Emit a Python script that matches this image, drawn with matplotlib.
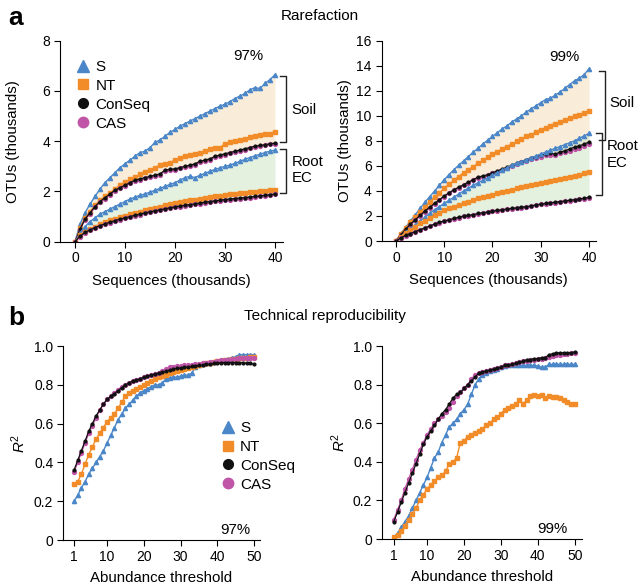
import matplotlib
matplotlib.use("Agg")
import matplotlib.pyplot as plt
from matplotlib.lines import Line2D
import numpy as np

plt.rcParams['font.family'] = ['Liberation Sans', 'DejaVu Sans']
plt.rcParams['font.size'] = 10.8
plt.rcParams['mathtext.fontset'] = 'custom'
plt.rcParams['mathtext.rm'] = 'Liberation Sans'
plt.rcParams['mathtext.it'] = 'Liberation Sans:italic'

# ---- data: rarefaction (sequences in thousands, OTUs in thousands) ----
seqs = np.arange(0, 41)

# 97% OTUs
a97_soil_S = [0, 0.7, 1.15, 1.5, 1.8, 2.1, 2.35, 2.55, 2.75, 2.95, 3.1, 3.25, 3.4, 3.55, 3.6, 3.75, 3.95, 4.05,
              4.2, 4.35, 4.47, 4.6, 4.7, 4.8, 4.9, 5.0, 5.1, 5.2, 5.3, 5.4, 5.47, 5.58, 5.7, 5.8, 5.9, 6.05, 6.13,
              6.1, 6.3, 6.45, 6.65]
a97_soil_NT = [0, 0.55, 0.95, 1.2, 1.45, 1.65, 1.8, 1.95, 2.1, 2.25, 2.38, 2.48, 2.58, 2.68, 2.76, 2.85, 2.95,
               3.05, 3.1, 3.15, 3.25, 3.35, 3.4, 3.45, 3.5, 3.55, 3.6, 3.7, 3.75, 3.75, 3.9, 3.95, 4.0, 4.05,
               4.1, 4.15, 4.2, 4.25, 4.28, 4.3, 4.38]
a97_soil_CS = [0, 0.5, 0.9, 1.15, 1.4, 1.6, 1.75, 1.9, 2.05, 2.15, 2.25, 2.35, 2.45, 2.5, 2.55, 2.6, 2.65, 2.7,
               2.85, 2.88, 2.9, 2.95, 3.0, 3.05, 3.1, 3.2, 3.25, 3.3, 3.4, 3.45, 3.5, 3.55, 3.6, 3.65, 3.7, 3.75,
               3.8, 3.83, 3.86, 3.9, 3.92]
a97_soil_CAS = [0, 0.48, 0.87, 1.12, 1.37, 1.57, 1.72, 1.87, 2.02, 2.12, 2.22, 2.32, 2.42, 2.47, 2.52, 2.57,
                2.62, 2.67, 2.82, 2.85, 2.87, 2.92, 2.97, 3.02, 3.07, 3.17, 3.22, 3.27, 3.37, 3.42, 3.47, 3.52,
                3.57, 3.62, 3.67, 3.72, 3.77, 3.8, 3.83, 3.87, 3.9]
a97_root_S = [0, 0.35, 0.6, 0.8, 0.95, 1.1, 1.2, 1.3, 1.4, 1.5, 1.6, 1.7, 1.77, 1.85, 1.9, 1.97, 2.05, 2.12,
              2.2, 2.28, 2.35, 2.45, 2.55, 2.6, 2.55, 2.65, 2.72, 2.8, 2.88, 2.94, 3.0, 3.05, 3.12, 3.2, 3.28,
              3.35, 3.42, 3.48, 3.55, 3.6, 3.65]
a97_root_NT = [0, 0.25, 0.4, 0.5, 0.6, 0.7, 0.77, 0.85, 0.92, 0.98, 1.04, 1.1, 1.15, 1.2, 1.25, 1.3, 1.35, 1.4,
               1.45, 1.5, 1.55, 1.58, 1.62, 1.65, 1.68, 1.71, 1.74, 1.77, 1.8, 1.83, 1.86, 1.88, 1.9, 1.92, 1.94,
               1.96, 1.98, 2.0, 2.02, 2.05, 2.07]
a97_root_CS = [0, 0.22, 0.37, 0.47, 0.56, 0.64, 0.71, 0.78, 0.84, 0.9, 0.95, 1.0, 1.05, 1.1, 1.15, 1.19, 1.23,
               1.27, 1.31, 1.35, 1.39, 1.42, 1.45, 1.48, 1.51, 1.54, 1.57, 1.6, 1.63, 1.65, 1.68, 1.7, 1.72, 1.74,
               1.76, 1.78, 1.8, 1.82, 1.85, 1.87, 1.9]
a97_root_CAS = [0, 0.2, 0.35, 0.45, 0.54, 0.62, 0.69, 0.76, 0.82, 0.88, 0.93, 0.98, 1.03, 1.08, 1.13, 1.17,
                1.21, 1.25, 1.29, 1.33, 1.37, 1.4, 1.43, 1.46, 1.49, 1.52, 1.55, 1.58, 1.61, 1.63, 1.66, 1.68,
                1.7, 1.72, 1.74, 1.76, 1.78, 1.8, 1.83, 1.85, 1.88]

# 99% OTUs
a99_soil_S = [0, 0.6, 1.1, 1.6, 2.1, 2.6, 3.1, 3.55, 4.0, 4.45, 4.9, 5.3, 5.7, 6.05, 6.4, 6.75, 7.1, 7.4, 7.75,
              8.05, 8.35, 8.65, 8.95, 9.2, 9.5, 9.75, 10.0, 10.3, 10.55, 10.8, 11.05, 11.3, 11.4, 11.65, 11.9,
              12.2, 12.5, 12.8, 13.0, 13.3, 13.75]
a99_soil_NT = [0, 0.6, 1.05, 1.5, 1.9, 2.3, 2.7, 3.1, 3.5, 3.85, 4.2, 4.55, 4.85, 5.15, 5.45, 5.7, 5.95, 6.2,
               6.45, 6.7, 6.95, 7.15, 7.35, 7.55, 7.75, 7.95, 8.15, 8.35, 8.5, 8.7, 8.88, 9.05, 9.2, 9.35, 9.5,
               9.65, 9.8, 9.95, 10.1, 10.25, 10.4]
a99_soil_CS = [0, 0.5, 0.95, 1.35, 1.7, 2.05, 2.4, 2.7, 3.0, 3.3, 3.6, 3.85, 4.1, 4.3, 4.5, 4.7, 4.9, 5.1, 5.2,
               5.3, 5.45, 5.6, 5.75, 5.9, 6.05, 6.2, 6.35, 6.5, 6.65, 6.75, 6.85, 6.95, 7.0, 6.95, 7.1, 7.2,
               7.35, 7.5, 7.6, 7.75, 7.9]
a99_soil_CAS = [0, 0.48, 0.92, 1.3, 1.65, 2.0, 2.35, 2.65, 2.95, 3.25, 3.55, 3.8, 4.05, 4.25, 4.45, 4.65, 4.85,
                5.05, 5.15, 5.25, 5.4, 5.55, 5.7, 5.85, 6.0, 6.15, 6.3, 6.42, 6.55, 6.65, 6.75, 6.85, 6.9, 6.9,
                7.0, 7.1, 7.2, 7.35, 7.45, 7.6, 7.72]
a99_root_S = [0, 0.35, 0.7, 1.0, 1.3, 1.6, 1.9, 2.2, 2.5, 2.75, 3.0, 3.25, 3.5, 3.75, 4.0, 4.2, 4.45, 4.65,
              4.85, 5.05, 5.25, 5.45, 5.65, 5.85, 6.05, 6.2, 6.35, 6.5, 6.65, 6.8, 6.95, 7.1, 7.25, 7.4, 7.55,
              7.7, 7.85, 8.0, 8.2, 8.4, 8.6]
a99_root_NT = [0, 0.35, 0.65, 0.9, 1.15, 1.4, 1.6, 1.85, 2.05, 2.25, 2.45, 2.6, 2.75, 2.9, 3.05, 3.15, 3.3,
               3.4, 3.5, 3.6, 3.7, 3.8, 3.9, 4.0, 4.1, 4.2, 4.3, 4.4, 4.45, 4.55, 4.63, 4.7, 4.8, 4.88, 4.95,
               5.05, 5.12, 5.2, 5.3, 5.4, 5.5]
a99_root_CS = [0, 0.25, 0.45, 0.6, 0.75, 0.9, 1.05, 1.2, 1.35, 1.5, 1.6, 1.7, 1.8, 1.9, 2.0, 2.05, 2.1, 2.2,
               2.25, 2.32, 2.4, 2.45, 2.5, 2.55, 2.6, 2.65, 2.7, 2.75, 2.8, 2.88, 2.95, 3.0, 3.05, 3.1, 3.15,
               3.2, 3.25, 3.3, 3.35, 3.42, 3.48]
a99_root_CAS = [0, 0.23, 0.43, 0.58, 0.73, 0.88, 1.03, 1.18, 1.33, 1.47, 1.57, 1.67, 1.77, 1.87, 1.97, 2.02,
                2.07, 2.17, 2.22, 2.29, 2.37, 2.42, 2.47, 2.52, 2.57, 2.62, 2.67, 2.72, 2.77, 2.85, 2.92, 2.97,
                3.02, 3.07, 3.12, 3.17, 3.22, 3.27, 3.32, 3.39, 3.45]

# ---- data: technical reproducibility (R^2 vs abundance threshold) ----
thresh = np.arange(1, 51)

b97_S = [0.2, 0.23, 0.27, 0.3, 0.34, 0.37, 0.4, 0.43, 0.46, 0.5, 0.54, 0.58, 0.62, 0.65, 0.68, 0.7, 0.72, 0.74,
         0.76, 0.77, 0.78, 0.79, 0.8, 0.8, 0.81, 0.83, 0.835, 0.84, 0.84, 0.845, 0.85, 0.85, 0.86, 0.89, 0.9,
         0.905, 0.91, 0.915, 0.92, 0.925, 0.93, 0.93, 0.935, 0.94, 0.945, 0.955, 0.955, 0.955, 0.955, 0.955]
b97_NT = [0.29, 0.3, 0.34, 0.39, 0.44, 0.48, 0.52, 0.55, 0.58, 0.61, 0.63, 0.65, 0.68, 0.71, 0.74, 0.76, 0.77,
          0.78, 0.79, 0.8, 0.81, 0.82, 0.83, 0.84, 0.845, 0.85, 0.86, 0.865, 0.87, 0.875, 0.88, 0.885, 0.89,
          0.895, 0.9, 0.905, 0.91, 0.915, 0.92, 0.925, 0.925, 0.93, 0.93, 0.935, 0.935, 0.94, 0.94, 0.94, 0.945,
          0.945]
b97_CS = [0.36, 0.41, 0.46, 0.51, 0.56, 0.6, 0.64, 0.67, 0.7, 0.725, 0.74, 0.755, 0.77, 0.785, 0.8, 0.81, 0.82,
          0.825, 0.83, 0.84, 0.845, 0.85, 0.855, 0.86, 0.865, 0.87, 0.875, 0.88, 0.885, 0.885, 0.89, 0.89, 0.895,
          0.895, 0.9, 0.9, 0.905, 0.905, 0.91, 0.91, 0.915, 0.915, 0.915, 0.915, 0.915, 0.915, 0.915, 0.91, 0.91,
          0.905]
b97_CAS = [0.35, 0.4, 0.45, 0.5, 0.55, 0.59, 0.63, 0.67, 0.7, 0.725, 0.74, 0.76, 0.775, 0.79, 0.8, 0.81, 0.82,
           0.825, 0.83, 0.84, 0.845, 0.85, 0.855, 0.86, 0.87, 0.88, 0.89, 0.89, 0.895, 0.895, 0.9, 0.9, 0.9,
           0.905, 0.905, 0.91, 0.915, 0.92, 0.92, 0.925, 0.93, 0.93, 0.93, 0.935, 0.935, 0.94, 0.94, 0.94, 0.94,
           0.94]

b99_S = [0.01, 0.03, 0.06, 0.09, 0.12, 0.16, 0.2, 0.24, 0.28, 0.32, 0.37, 0.42, 0.45, 0.5, 0.54, 0.58, 0.6, 0.62,
         0.65, 0.67, 0.7, 0.75, 0.8, 0.83, 0.85, 0.86, 0.87, 0.875, 0.88, 0.89, 0.895, 0.9, 0.9, 0.9, 0.9, 0.9,
         0.9, 0.9, 0.9, 0.895, 0.89, 0.89, 0.905, 0.905, 0.905, 0.905, 0.905, 0.905, 0.905, 0.905]
b99_NT = [0.01, 0.02, 0.04, 0.07, 0.1, 0.13, 0.16, 0.2, 0.23, 0.26, 0.28, 0.3, 0.32, 0.33, 0.35, 0.39, 0.4, 0.42,
          0.5, 0.51, 0.53, 0.54, 0.55, 0.56, 0.57, 0.59, 0.6, 0.62, 0.63, 0.65, 0.67, 0.68, 0.69, 0.7, 0.72, 0.7,
          0.72, 0.74, 0.745, 0.74, 0.745, 0.73, 0.74, 0.735, 0.735, 0.73, 0.72, 0.71, 0.7, 0.7]
b99_CS = [0.09, 0.14, 0.19, 0.24, 0.29, 0.34, 0.39, 0.44, 0.49, 0.53, 0.56, 0.59, 0.62, 0.65, 0.67, 0.7, 0.73,
          0.75, 0.76, 0.78, 0.8, 0.82, 0.84, 0.86, 0.865, 0.87, 0.875, 0.88, 0.885, 0.89, 0.9, 0.9, 0.905, 0.91,
          0.915, 0.92, 0.93, 0.93, 0.935, 0.935, 0.94, 0.94, 0.955, 0.96, 0.965, 0.965, 0.965, 0.965, 0.965, 0.97]
b99_CAS = [0.1, 0.15, 0.2, 0.26, 0.31, 0.36, 0.41, 0.46, 0.5, 0.54, 0.57, 0.6, 0.62, 0.64, 0.66, 0.68, 0.71,
           0.74, 0.76, 0.78, 0.8, 0.83, 0.85, 0.86, 0.865, 0.87, 0.875, 0.88, 0.885, 0.89, 0.9, 0.9, 0.905, 0.91,
           0.915, 0.92, 0.925, 0.93, 0.93, 0.935, 0.935, 0.94, 0.945, 0.95, 0.955, 0.955, 0.96, 0.96, 0.965, 0.965]

labels = ['S', 'NT', 'ConSeq', 'CAS']
c_S, c_NT, c_CS, c_CAS = '#4a86c8', '#f28c28', '#111111', '#c055a8'
soil_fill = '#f5ddb8'
root_fill = '#cfe6c6'

style = {
    'S': dict(color=c_S, marker='^', ms=3.0, lw=1.0),
    'NT': dict(color=c_NT, marker='s', ms=2.6, lw=1.0),
    'CAS': dict(color=c_CAS, marker='o', ms=2.8, lw=1.0),
    'CS': dict(color=c_CS, marker='o', ms=2.0, lw=0.9),
}


def draw(ax, x, S, NT, CS, CAS):
    ax.plot(x, S, **style['S'])
    ax.plot(x, NT, **style['NT'])
    ax.plot(x, CAS, **style['CAS'])
    ax.plot(x, CS, **style['CS'])


def tidy(ax):
    for side in ('top', 'right'):
        ax.spines[side].set_visible(False)
    ax.tick_params(direction='out', length=4, width=0.8, labelsize=10, pad=3)


def bracket(ax, x0, x1, y0, y1):
    ax.plot([x0, x1, x1, x0], [y0, y0, y1, y1], color='#222222', lw=1.0, clip_on=False)


fig = plt.figure(figsize=(6.4, 5.85), dpi=100)

# panel a, 97%
ax1 = fig.add_axes([0.09375, 0.5868, 0.3484, 0.3436])
ax1.fill_between(seqs, a97_soil_S, a97_soil_CS, color=soil_fill, alpha=0.55, lw=0)
ax1.fill_between(seqs, a97_root_S, a97_root_CS, color=root_fill, alpha=0.55, lw=0)
draw(ax1, seqs, a97_soil_S, a97_soil_NT, a97_soil_CS, a97_soil_CAS)
draw(ax1, seqs, a97_root_S, a97_root_NT, a97_root_CS, a97_root_CAS)
ax1.set_xlim(-3, 41.6)
ax1.set_ylim(0, 8)
ax1.set_xticks([0, 10, 20, 30, 40])
ax1.set_yticks([0, 2, 4, 6, 8])
ax1.set_xlabel('Sequences (thousands)')
ax1.set_ylabel('OTUs (thousands)')
ax1.xaxis.set_label_coords(0.5, -0.162)
ax1.yaxis.set_label_coords(-0.18, 0.5)
ax1.text(34.6, 7.4, '97%', ha='center', va='center')
bracket(ax1, 41.0, 42.2, 6.59, 3.98)
bracket(ax1, 41.0, 42.2, 3.69, 1.93)
ax1.text(43.3, 5.25, 'Soil', ha='left', va='center')
ax1.text(43.3, 2.85, 'Root\nEC', ha='left', va='center', linespacing=1.25)
handles = [Line2D([], [], ls='', marker='^', color=c_S, ms=8),
           Line2D([], [], ls='', marker='s', color=c_NT, ms=7.5),
           Line2D([], [], ls='', marker='o', color=c_CS, ms=7),
           Line2D([], [], ls='', marker='o', color=c_CAS, ms=7.5)]
ax1.legend(handles, labels, loc='upper left', bbox_to_anchor=(0.05, 0.935), frameon=False,
           handlelength=0.8, handletextpad=0.4, labelspacing=0.32, borderaxespad=0, fontsize=11)
tidy(ax1)

# panel a, 99%
ax2 = fig.add_axes([0.5961, 0.5880, 0.3355, 0.3424])
ax2.fill_between(seqs, a99_soil_S, a99_soil_CS, color=soil_fill, alpha=0.55, lw=0)
ax2.fill_between(seqs, a99_root_S, a99_root_CS, color=root_fill, alpha=0.55, lw=0)
draw(ax2, seqs, a99_soil_S, a99_soil_NT, a99_soil_CS, a99_soil_CAS)
draw(ax2, seqs, a99_root_S, a99_root_NT, a99_root_CS, a99_root_CAS)
ax2.set_xlim(-3, 41.5)
ax2.set_ylim(0, 16)
ax2.set_xticks([0, 10, 20, 30, 40])
ax2.set_yticks(range(0, 17, 2))
ax2.set_xlabel('Sequences (thousands)')
ax2.set_ylabel('OTUs (thousands)')
ax2.xaxis.set_label_coords(0.5, -0.162)
ax2.yaxis.set_label_coords(-0.137, 0.5)
ax2.text(35, 14.7, '99%', ha='center', va='center')
bracket(ax2, 42.1, 43.3, 13.6, 8.05)
bracket(ax2, 41.5, 42.6, 8.63, 3.67)
ax2.text(44.3, 11.0, 'Soil', ha='left', va='center')
ax2.text(43.7, 6.9, 'Root\nEC', ha='left', va='center', linespacing=1.25)
tidy(ax2)

# panel b, 97%
ax3 = fig.add_axes([0.0984, 0.0769, 0.3077, 0.3316])
draw(ax3, thresh, b97_S, b97_NT, b97_CS, b97_CAS)
ax3.set_xlim(-2, 51.6)
ax3.set_ylim(0, 1)
ax3.set_xticks([1, 10, 20, 30, 40, 50])
ax3.set_yticks([0, 0.2, 0.4, 0.6, 0.8, 1.0])
ax3.set_yticklabels(['0', '0.2', '0.4', '0.6', '0.8', '1.0'])
ax3.set_xlabel('Abundance threshold')
ax3.set_ylabel('$R^2$')
ax3.xaxis.set_label_coords(0.5, -0.16)
ax3.yaxis.set_label_coords(-0.178, 0.5)
ax3.text(44.8, 0.05, '97%', ha='center', va='center')
ax3.legend(handles, labels, loc='upper left', bbox_to_anchor=(0.775, 0.645), frameon=False,
           handlelength=0.8, handletextpad=0.4, labelspacing=0.32, borderaxespad=0, fontsize=11)
tidy(ax3)

# panel b, 99%
ax4 = fig.add_axes([0.5969, 0.0786, 0.3122, 0.3299])
draw(ax4, thresh, b99_S, b99_NT, b99_CS, b99_CAS)
ax4.set_xlim(-2.2, 51.9)
ax4.set_ylim(0, 1)
ax4.set_xticks([1, 10, 20, 30, 40, 50])
ax4.set_yticks([0, 0.2, 0.4, 0.6, 0.8, 1.0])
ax4.set_yticklabels(['0', '0.2', '0.4', '0.6', '0.8', '1.0'])
ax4.set_xlabel('Abundance threshold')
ax4.set_ylabel('$R^2$')
ax4.xaxis.set_label_coords(0.5, -0.16)
ax4.yaxis.set_label_coords(-0.17, 0.5)
ax4.text(44, 0.05, '99%', ha='center', va='center')
tidy(ax4)

fig.text(0.5, 1 - 16 / 585, 'Rarefaction', ha='center', va='center', fontsize=11)
fig.text(325 / 640, 1 - 316 / 585, 'Technical reproducibility', ha='center', va='center', fontsize=11)
fig.text(8 / 640, 1 - 18 / 585, 'a', ha='left', va='center', fontsize=19, fontweight='bold')
fig.text(8 / 640, 1 - 318 / 585, 'b', ha='left', va='center', fontsize=19, fontweight='bold')

fig.savefig('out.png', dpi=100)
